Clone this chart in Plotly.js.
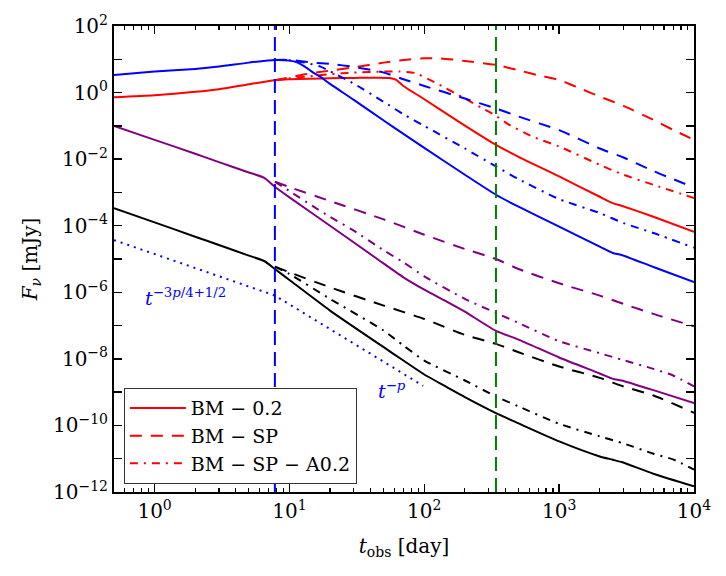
<!DOCTYPE html>
<html>
<head>
<meta charset="utf-8">
<script src="https://cdn.plot.ly/plotly-3.0.1.min.js"></script>
<style>
  html, body { margin: 0; padding: 0; background: #fff; }
  #plot { width: 726px; height: 576px; }
</style>
</head>
<body>
<div id="plot"></div>
<script>
// Light curves F_nu(t_obs) for three jet models in four bands (colours).
// BM - 0.2 (solid), BM - SP (dashed), BM - SP - A0.2 (dash-dot).

// ---- blue band ----
const tBlue02 = [0.5, 1, 2, 3, 5, 7.8, 10, 11.5, 13, 15, 17, 20, 30, 50, 70, 100, 200, 340, 500, 1000, 2000, 2500, 2900, 5000, 10000];
const fBlue02 = [3.39, 4.27, 5.13, 6.03, 7.94, 9.55, 9.12, 7.94, 6.03, 3.98, 2.95, 1.82, 0.603, 0.145, 0.0575, 0.0219, 3.39e-3, 8.51e-4, 3.72e-4, 9.33e-5, 2.34e-5, 1.51e-5, 1.32e-5, 5.75e-6, 2.04e-6];
const tBlueSP = [7.8, 10, 15, 20, 30, 50, 70, 100, 200, 340, 500, 1000, 2000, 3000, 5000, 10000];
const fBlueSP = [9.55, 9.55, 7.94, 7.24, 5.89, 3.98, 2.51, 1.58, 0.661, 0.331, 0.191, 0.0741, 0.0209, 0.0112, 4.37e-3, 1.41e-3];
const tBlueA02 = [7.8, 10, 13, 17, 20, 30, 50, 70, 100, 200, 340, 500, 1000, 2000, 3000, 5000, 10000];
const fBlueA02 = [9.55, 9.33, 7.94, 6.03, 4.37, 1.86, 0.525, 0.224, 0.1, 0.0209, 6.03e-3, 2.51e-3, 6.31e-4, 2.40e-4, 1.20e-4, 6.03e-5, 2.19e-5];

// ---- red band ----
const tRed02 = [0.5, 1, 2, 3, 5, 7.8, 10, 20, 30, 55, 62, 70, 100, 200, 340, 500, 1000, 2000, 2500, 2900, 5000, 10000];
const fRed02 = [0.724, 0.832, 1.05, 1.26, 1.78, 2.34, 2.51, 2.69, 2.75, 2.75, 2.40, 1.58, 0.631, 0.102, 0.0269, 0.0117, 3.02e-3, 7.41e-4, 4.79e-4, 3.98e-4, 1.86e-4, 6.61e-5];
const tRedSP = [7.8, 10, 13, 20, 30, 50, 70, 100, 130, 200, 340, 500, 700, 1000, 1500, 2000, 3000, 5000, 7000, 10000];
const fRedSP = [2.34, 2.82, 3.55, 4.57, 5.75, 7.94, 9.55, 10.7, 10.7, 8.91, 6.76, 4.68, 3.31, 2.40, 1.23, 0.759, 0.398, 0.151, 0.0759, 0.0380];
const tRedA02 = [7.8, 10, 15, 20, 30, 50, 66, 85, 110, 130, 190, 267, 340, 415, 640, 1000, 2000, 3000, 5000, 10000];
const fRedA02 = [2.34, 2.69, 3.16, 3.55, 3.98, 4.27, 4.27, 3.89, 2.40, 1.70, 0.741, 0.347, 0.200, 0.115, 0.0468, 0.0240, 6.76e-3, 3.39e-3, 1.70e-3, 6.76e-4];

// ---- purple band ----
const tPurple02 = [0.5, 1, 2, 3, 5, 6.5, 7.8, 10, 20, 44, 70, 100, 150, 200, 340, 500, 1000, 2000, 2500, 2900, 5000, 10000];
const fPurple02 = [0.1, 0.038, 0.0145, 8.13e-3, 3.98e-3, 2.75e-3, 1.48e-3, 7.08e-4, 1.0e-4, 1.05e-5, 2.82e-6, 1.20e-6, 5.01e-7, 2.63e-7, 6.92e-8, 3.80e-8, 1.10e-8, 3.63e-9, 2.51e-9, 2.24e-9, 1.15e-9, 4.68e-10];
const tPurpleSP = [7.8, 10, 20, 50, 100, 200, 340, 500, 1000, 2000, 3000, 5000, 10000];
const fPurpleSP = [2.09e-3, 1.45e-3, 5.50e-4, 1.55e-4, 5.37e-5, 2.0e-5, 1.0e-5, 5.01e-6, 1.86e-6, 7.94e-7, 4.47e-7, 2.24e-7, 9.55e-8];
const tPurpleA02 = [7.8, 10, 15, 20, 30, 50, 70, 100, 200, 340, 500, 1000, 2000, 3000, 5000, 7000, 10000];
const fPurpleA02 = [2.09e-3, 1.10e-3, 3.80e-4, 1.86e-4, 7.08e-5, 1.82e-5, 7.94e-6, 3.02e-6, 6.31e-7, 2.40e-7, 1.20e-7, 3.39e-8, 1.48e-8, 9.12e-9, 5.01e-9, 3.16e-9, 1.48e-9];

// ---- black band ----
const tBlack02 = [0.5, 1, 2, 3, 5, 6.5, 7.8, 10, 20, 50, 70, 100, 150, 200, 340, 500, 1000, 2000, 2500, 2900, 5000, 10000];
const fBlack02 = [3.39e-4, 1.26e-4, 4.68e-5, 2.63e-5, 1.26e-5, 8.71e-6, 5.01e-6, 2.34e-6, 2.82e-7, 2.24e-8, 8.91e-9, 3.39e-9, 1.35e-9, 7.08e-10, 2.34e-10, 1.15e-10, 3.31e-11, 1.17e-11, 9.33e-12, 7.94e-12, 3.55e-12, 1.48e-12];
const tBlackSP = [7.8, 10, 20, 50, 100, 200, 340, 500, 1000, 2000, 3000, 5000, 10000];
const fBlackSP = [5.89e-6, 3.98e-6, 1.41e-6, 3.98e-7, 1.58e-7, 5.25e-8, 2.82e-8, 1.58e-8, 5.89e-9, 2.69e-9, 1.48e-9, 7.94e-10, 2.40e-10];
const tBlackA02 = [7.8, 10, 20, 50, 70, 100, 200, 340, 500, 1000, 2000, 3000, 5000, 7000, 10000];
const fBlackA02 = [5.89e-6, 3.55e-6, 6.31e-7, 7.08e-8, 2.51e-8, 8.91e-9, 2.24e-9, 7.41e-10, 3.72e-10, 1.12e-10, 4.68e-11, 2.88e-11, 1.41e-11, 9.55e-12, 4.68e-12];

// ---- reference power laws (dotted) ----
const tSlope = [0.5, 7.8, 98];
const fSlope = [3.7e-5, 8.0e-7, 1.55e-9];

// ---- characteristic times (vertical dashed lines) ----
const tJetBreak = 7.8;
const tNonRel = 340;
const yFull = [1e-12, 1e2];

// ---- axis ticks ----
const xMajor = [1, 10, 100, 1000, 10000];
const xMajorText = ['10<sup>0</sup>', '10<sup>1</sup>', '10<sup>2</sup>', '10<sup>3</sup>', '10<sup>4</sup>'];
const yExp = [-12, -11, -10, -9, -8, -7, -6, -5, -4, -3, -2, -1, 0, 1, 2];

const modelNames = ['BM \u2212 0.2', 'BM \u2212 SP', 'BM \u2212 SP \u2212 A0.2'];

const COLORS = { red: '#ff0000', blue: '#0000ff', purple: '#800080', black: '#000000' };
const DASH = { solid: 'solid', sp: '12px,9px', a02: '8px,6px,2px,6px' };
const LW = 2;

function curve(t, f, color, dash, name, showlegend) {
  return {
    type: 'scatter', mode: 'lines', x: t, y: f,
    name: name, showlegend: !!showlegend, hoverinfo: 'skip',
    line: { color: color, width: LW, dash: dash, shape: 'spline', smoothing: 0.6 }
  };
}

const traces = [
  curve(tRed02, fRed02, COLORS.red, DASH.solid, modelNames[0], true),
  curve(tRedSP, fRedSP, COLORS.red, DASH.sp, modelNames[1], true),
  curve(tRedA02, fRedA02, COLORS.red, DASH.a02, modelNames[2], true),

  curve(tBlue02, fBlue02, COLORS.blue, DASH.solid),
  curve(tBlueSP, fBlueSP, COLORS.blue, DASH.sp),
  curve(tBlueA02, fBlueA02, COLORS.blue, DASH.a02),

  curve(tPurple02, fPurple02, COLORS.purple, DASH.solid),
  curve(tPurpleSP, fPurpleSP, COLORS.purple, DASH.sp),
  curve(tPurpleA02, fPurpleA02, COLORS.purple, DASH.a02),

  curve(tBlack02, fBlack02, COLORS.black, DASH.solid),
  curve(tBlackSP, fBlackSP, COLORS.black, DASH.sp),
  curve(tBlackA02, fBlackA02, COLORS.black, DASH.a02),

  { type: 'scatter', mode: 'lines', x: tSlope, y: fSlope, showlegend: false, hoverinfo: 'skip',
    line: { color: COLORS.blue, width: 2, dash: '2px,5px' } },

  { type: 'scatter', mode: 'lines', x: [tJetBreak, tJetBreak], y: yFull, showlegend: false, hoverinfo: 'skip',
    line: { color: COLORS.blue, width: 2, dash: '14px,7px' } },
  { type: 'scatter', mode: 'lines', x: [tNonRel, tNonRel], y: yFull, showlegend: false, hoverinfo: 'skip',
    line: { color: '#008000', width: 2, dash: '14px,7px' } }
];

// minor x ticks at 2..9 x 10^k inside the range
const xMinor = [];
[0.1, 1, 10, 100, 1000].forEach(function (d) {
  for (let k = 2; k <= 9; k++) {
    const v = k * d;
    if (v >= 0.5 && v < 10000) xMinor.push(v);
  }
});
const yTickVals = yExp.map(function (e) { return Math.pow(10, e); });
const yTickText = yExp.map(function (e) {
  return (e % 2 === 0) ? '10<sup>' + (e < 0 ? '\u2212' + (-e) : e) + '</sup>' : '';
});

const FONT = 'DejaVu Serif';

const layout = {
  width: 726, height: 576,
  margin: { l: 114, r: 32, t: 26, b: 84 },
  paper_bgcolor: '#ffffff', plot_bgcolor: '#ffffff',
  font: { family: FONT, size: 20, color: '#000000' },
  showlegend: true,
  xaxis: {
    type: 'log', range: [Math.log10(0.5), 4],
    showgrid: false, zeroline: false,
    showline: true, linecolor: '#000000', linewidth: 2, mirror: 'ticks',
    ticks: 'inside', ticklen: 8, tickwidth: 1.5, tickcolor: '#000000',
    tickmode: 'array', tickvals: xMajor, ticktext: xMajorText,
    tickfont: { family: FONT, size: 20 },
    title: { text: '<i>t</i><sub>obs</sub> [day]', font: { family: FONT, size: 20 }, standoff: 17 }
  },
  // second x axis on top of the first, only for the minor tick marks
  xaxis2: {
    type: 'log', range: [Math.log10(0.5), 4], overlaying: 'x', matches: 'x',
    showgrid: false, zeroline: false, showline: false, mirror: 'ticks',
    ticks: 'inside', ticklen: 4, tickwidth: 1.2, tickcolor: '#000000',
    tickmode: 'array', tickvals: xMinor, showticklabels: false
  },
  yaxis: {
    type: 'log', range: [-12, 2],
    showgrid: false, zeroline: false,
    showline: true, linecolor: '#000000', linewidth: 2, mirror: 'ticks',
    ticks: 'inside', ticklen: 8, tickwidth: 1.5, tickcolor: '#000000',
    tickmode: 'array', tickvals: yTickVals, ticktext: yTickText,
    tickfont: { family: FONT, size: 20 },
    title: { text: '<i>F</i><sub><i>\u03bd</i></sub> [mJy]', font: { family: FONT, size: 20 }, standoff: 10 }
  },
  legend: {
    x: 0.017, y: 0.223, xanchor: 'left', yanchor: 'top',
    bgcolor: '#ffffff', bordercolor: '#333333', borderwidth: 1,
    font: { family: FONT, size: 19, color: '#000000' },
    tracegroupgap: 0, itemwidth: 56
  },
  annotations: [
    { xref: 'paper', yref: 'paper', x: 0.05, y: 0.418, xanchor: 'left', yanchor: 'middle',
      text: '<i>t</i><sup>\u22123<i>p</i>/4+1/2</sup>', showarrow: false,
      font: { family: FONT, size: 19, color: COLORS.blue } },
    { xref: 'paper', yref: 'paper', x: 0.452, y: 0.219, xanchor: 'left', yanchor: 'middle',
      text: '<i>t</i><sup>\u2212<i>p</i></sup>', showarrow: false,
      font: { family: FONT, size: 19, color: COLORS.blue } }
  ]
};

// an invisible trace keeps the minor-tick axis alive
traces.push({ type: 'scatter', mode: 'lines', x: xMajor, y: [1, 1, 1, 1, 1], xaxis: 'x2', yaxis: 'y',
  showlegend: false, hoverinfo: 'skip', line: { width: 0 }, opacity: 0 });

Plotly.newPlot('plot', traces, layout, { staticPlot: true, displayModeBar: false });
</script>
</body>
</html>
